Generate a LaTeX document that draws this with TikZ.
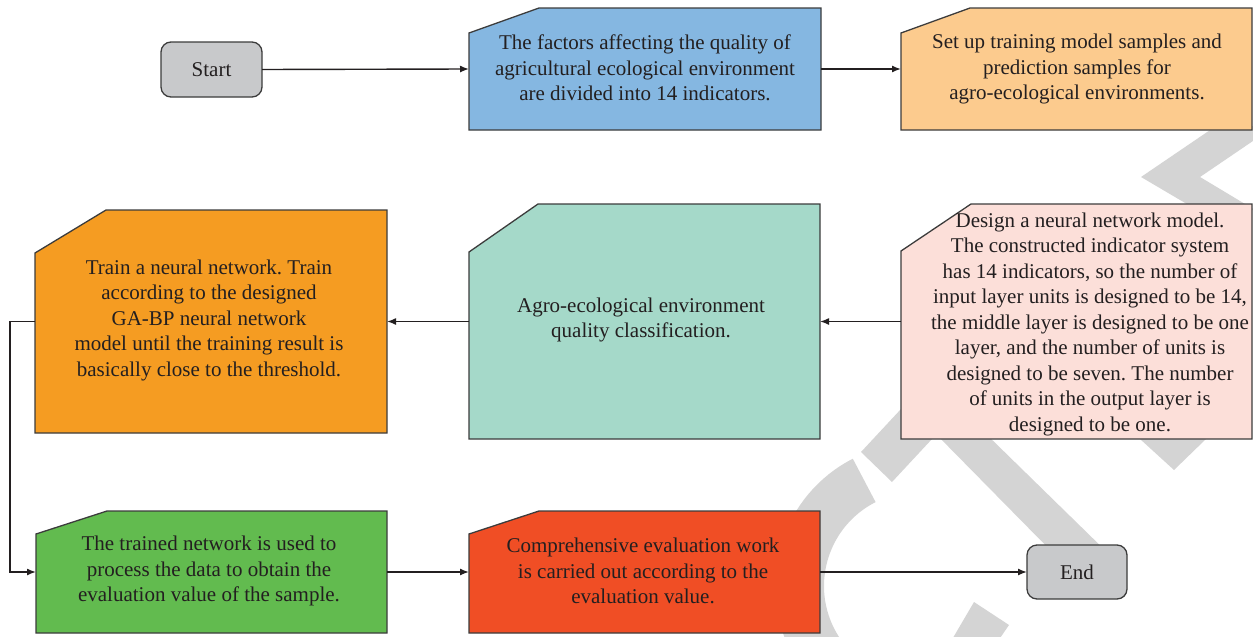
\documentclass[tikz,border=0pt]{standalone}
\usepackage{fontspec}
\setmainfont{Liberation Serif}
\frenchspacing
\usetikzlibrary{arrows.meta}
\definecolor{wm}{HTML}{D4D4D4}
\definecolor{edge}{HTML}{3C3C3C}
\definecolor{ink}{HTML}{231F20}
\definecolor{cgray}{HTML}{C8C9CB}
\definecolor{cblue}{HTML}{85B7E1}
\definecolor{clorange}{HTML}{FCCB8E}
\definecolor{corange}{HTML}{F59C22}
\definecolor{cteal}{HTML}{A5D9C9}
\definecolor{cpink}{HTML}{FCDFD9}
\definecolor{cgreen}{HTML}{62BB4F}
\definecolor{cred}{HTML}{F04E25}
\newcommand\chamfbox[4]{%
  \draw[boxshape,fill=#4] (#1.south west) -- (#1.south east) -- (#1.north east)
    -- ([xshift=#2pt]#1.north west) -- ([yshift=-#3pt]#1.north west) -- cycle;}
\begin{document}
\begin{tikzpicture}[x=1pt,y=-1pt,
  geom/.style={rectangle,draw=none,fill=none,inner sep=0pt,outer sep=0pt},
  boxshape/.style={draw=edge,line width=1.3pt,line join=miter},
  termbox/.style={rectangle,rounded corners=10pt,draw=edge,fill=cgray,line width=1.3pt,
    inner sep=0pt,outer sep=0pt,text=ink,font=\fontsize{21}{25.5}\selectfont},
  txt/.style={align=center,text=ink,inner sep=0pt,font=\fontsize{21}{25.5}\selectfont},
  arr/.style={draw=ink,line width=1.4pt,-{Latex[length=9pt,width=7pt]}}
]
\useasboundingbox (0,0) rectangle (1253,637);
\clip (0,0) rectangle (1253,637);
% faint background watermark
\fill[wm] (861,452) -- (892,482) -- (1012,353) -- (981,323) -- cycle;
\fill[wm] (932,430) -- (982,430) -- (1115,560) -- (1060,560) -- cycle;
\fill[wm] (1140,430) -- (1140,439) -- (1174,470) -- (1206,439) -- (1206,430) -- cycle;
\fill[wm] (974,602) -- (1009,625) -- (985,660) -- (940,660) -- cycle;
\fill[wm] (1141,177) -- (1216,126) -- (1275,126) -- (1200,177) -- (1255,210) -- (1197,210) -- cycle;
\draw[wm,line width=49pt] ([shift={(-117:118.5)}]918,586) arc[start angle=-117,end angle=-250,radius=118.5];
% terminals
\node[termbox,minimum width=101pt,minimum height=55pt] (start) at (211.5,69.5) {Start};
\node[termbox,minimum width=100pt,minimum height=54pt] (end) at (1077,572) {End};
% process boxes (geometry)
\node[geom,minimum width=352pt,minimum height=122pt] (factors) at (645,69) {};
\node[geom,minimum width=351pt,minimum height=122pt] (setup) at (1076.5,69) {};
\node[geom,minimum width=352pt,minimum height=223pt] (train) at (211,321.5) {};
\node[geom,minimum width=351pt,minimum height=235pt] (classif) at (644.5,321.5) {};
\node[geom,minimum width=351pt,minimum height=235pt] (design) at (1076.5,321.5) {};
\node[geom,minimum width=351pt,minimum height=122pt] (trained) at (211.5,572) {};
\node[geom,minimum width=351pt,minimum height=122pt] (evalw) at (644.5,572) {};
\chamfbox{factors}{70}{25}{cblue}
\chamfbox{setup}{69}{25}{clorange}
\chamfbox{train}{71}{43}{corange}
\chamfbox{classif}{69}{48}{cteal}
\chamfbox{design}{70}{47}{cpink}
\chamfbox{trained}{71}{23}{cgreen}
\chamfbox{evalw}{70}{23}{cred}
% texts
\node[txt] (factorsT) at (645,68) {The factors affecting the quality of\\agricultural ecological environment\\are divided into 14 indicators.};
\node[txt] (setupT) at (1077,69) {Set up training model samples and\\prediction samples for\\agro-ecological environments.};
\node[txt] (trainT) at (209,320) {Train a neural network. Train\\according to the designed\\GA-BP neural network\\model until the training result is\\basically close to the threshold.};
\node[txt] (classifT) at (641,320) {Agro-ecological environment\\quality classification.};
\node[txt] (designT) at (1090,324) {Design a neural network model.\\The constructed indicator system\\has 14 indicators, so the number of\\input layer units is designed to be 14,\\the middle layer is designed to be one\\layer, and the number of units is\\designed to be seven. The number\\of units in the output layer is\\designed to be one.};
\node[txt] (trainedT) at (209,571) {The trained network is used to\\process the data to obtain the\\evaluation value of the sample.};
\node[txt] (evalwT) at (643,571) {Comprehensive evaluation work\\is carried out according to the\\evaluation value.};
% connectors
\draw[arr] (start.east) -- (factors.west);
\draw[arr] (factors.east) -- (setup.west);
\draw[arr] (design.west) -- (classif.east);
\draw[arr] (classif.west) -- (train.east);
\draw[arr] (train.west) -- ++(-25,0) |- (trained.west);
\draw[arr] (trained.east) -- (evalw.west);
\draw[arr] (evalw.east) -- (end.west);
\end{tikzpicture}
\end{document}
